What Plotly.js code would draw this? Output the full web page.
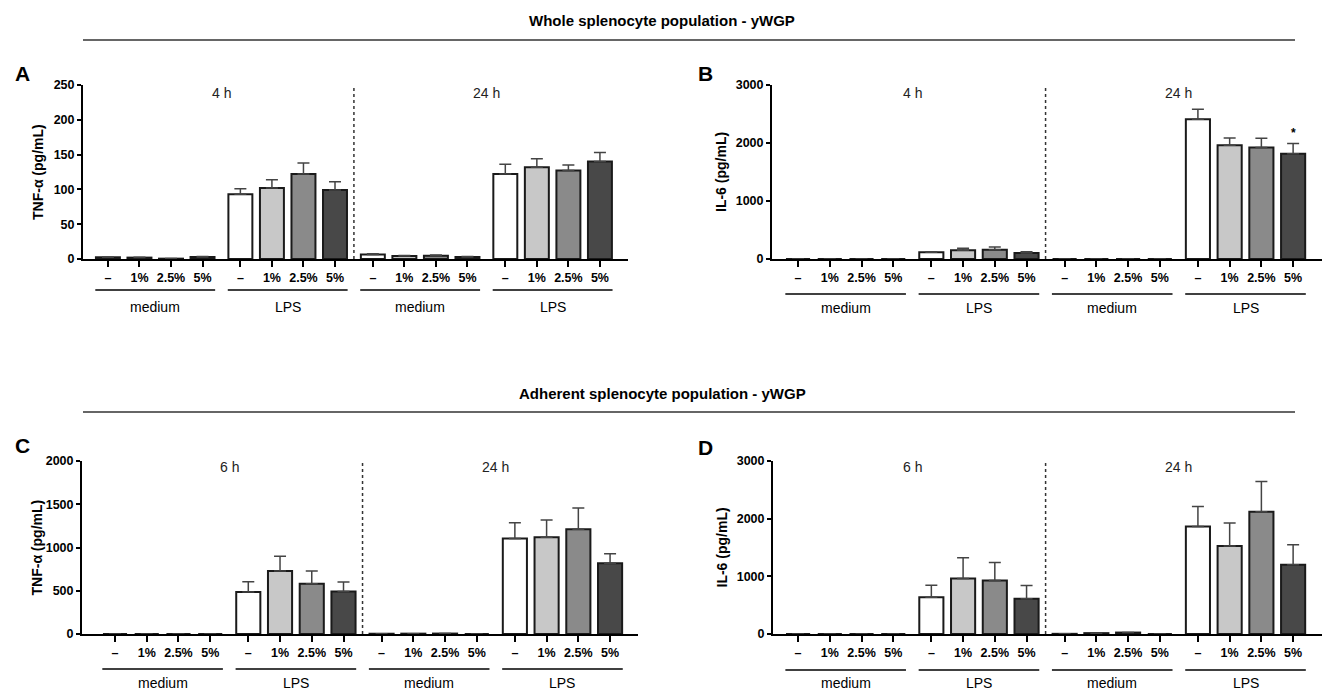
<!DOCTYPE html>
<html>
<head>
<meta charset="utf-8">
<script src="https://cdn.plot.ly/plotly-3.0.1.min.js"></script>
<style>html,body{margin:0;padding:0;background:#fff;}#chart{width:1326px;height:692px;}</style>
</head>
<body>
<div id="chart"></div>
<script>
// ---- data ----
const doseLabels = ['–', '1%', '2.5%', '5%'];
const groupLabels = ['medium', 'LPS', 'medium', 'LPS'];
const barColors = ['#ffffff', '#c8c8c8', '#8a8a8a', '#484848'];

// Panel A: whole splenocytes, TNF-α (4 h | 24 h)
const tnfWhole = [2.5, 2, 0.5, 3, 93, 102, 122, 99, 6.5, 4.3, 4.8, 2.9, 122, 132, 127, 140];
const tnfWholeErr = [0.5, 0.5, 0.3, 0.5, 8, 12, 16, 12, 1, 0.8, 1, 0.6, 14, 12, 8, 13];
// Panel B: whole splenocytes, IL-6 (4 h | 24 h)
const il6Whole = [0, 0, 0, 0, 115, 150, 160, 103, 0, 0, 0, 0, 2410, 1962, 1922, 1813];
const il6WholeErr = [0, 0, 0, 0, 12, 34, 46, 23, 0, 0, 0, 0, 172, 126, 161, 178];
// Panel C: adherent splenocytes, TNF-α (6 h | 24 h)
const tnfAdh = [0, 0, 0, 0, 485, 727, 581, 492, 3, 4, 5, 0, 1104, 1119, 1212, 819];
const tnfAdhErr = [0, 0, 0, 0, 119, 173, 146, 108, 0, 0, 0, 0, 181, 200, 246, 108];
// Panel D: adherent splenocytes, IL-6 (6 h | 24 h)
const il6Adh = [0, 0, 0, 0, 639, 961, 927, 610, 3, 15, 25, 0, 1865, 1526, 2119, 1203];
const il6AdhErr = [0, 0, 0, 0, 207, 363, 311, 231, 0, 0, 0, 0, 346, 397, 524, 346];

// ---- layout helpers ----
const W = 1326, H = 692;
const px = x => x / W;
const py = y => 1 - y / H;
const GAP = 4.2; // group spacing in slot units
const xpos = [];
const tickText = [];
const colors = [];
for (let g = 0; g < 4; g++) for (let i = 0; i < 4; i++) {
  xpos.push(g * GAP + i); tickText.push(doseLabels[i]); colors.push(barColors[i]);
}
const FONT = 'Liberation Sans, Arial, sans-serif';

const panels = [
  {id: '', letter: 'A', vals: tnfWhole, err: tnfWholeErr, ymax: 250, dtick: 50, ytitle: 'TNF-α (pg/mL)', times: ['4 h', '24 h'],
   xd: [83, 628], yd: [85, 259], xr: [-0.79, 16.49], lineY: 290, labY: 307, letterXY: [22, 73], timeY: 93, ytX: 38},
  {id: '2', letter: 'B', vals: il6Whole, err: il6WholeErr, ymax: 3000, dtick: 1000, ytitle: 'IL-6 (pg/mL)', times: ['4 h', '24 h'],
   xd: [772, 1322], yd: [85, 259], xr: [-0.82, 16.51], lineY: 294, labY: 308, letterXY: [705, 73], timeY: 93, ytX: 721},
  {id: '3', letter: 'C', vals: tnfAdh, err: tnfAdhErr, ymax: 2000, dtick: 500, ytitle: 'TNF-α (pg/mL)', times: ['6 h', '24 h'],
   xd: [82, 638], yd: [461, 634], xr: [-1.04, 16.48], lineY: 669, labY: 683, letterXY: [22, 445], timeY: 467, ytX: 36},
  {id: '4', letter: 'D', vals: il6Adh, err: il6AdhErr, ymax: 3000, dtick: 1000, ytitle: 'IL-6 (pg/mL)', times: ['6 h', '24 h'],
   xd: [773, 1322], yd: [461, 634], xr: [-0.79, 16.51], lineY: 670, labY: 683, letterXY: [705, 447], timeY: 467, ytX: 721}
];

const data = [];
const layout = {
  width: W, height: H, autosize: false,
  margin: {l: 0, r: 0, t: 0, b: 0},
  paper_bgcolor: '#fff', plot_bgcolor: 'rgba(0,0,0,0)',
  showlegend: false, bargap: 0,
  font: {family: FONT, color: '#000'},
  shapes: [], annotations: []
};

panels.forEach(p => {
  const xa = 'x' + p.id, ya = 'y' + p.id;
  data.push({
    type: 'bar', x: xpos, y: p.vals, width: 0.76, xaxis: xa, yaxis: ya,
    marker: {color: colors, line: {color: '#1a1a1a', width: 2}},
    error_y: {type: 'data', symmetric: false, array: p.err, arrayminus: p.err.map(() => 0),
              color: '#444', thickness: 1.5, width: 6},
    hoverinfo: 'y'
  });
  layout['xaxis' + p.id] = {
    domain: [px(p.xd[0]), px(p.xd[1])], anchor: ya, range: p.xr,
    tickvals: xpos, ticktext: tickText, ticks: 'outside', ticklen: 6, tickwidth: 2, tickcolor: '#000',
    showline: true, linewidth: 2, linecolor: '#000', showgrid: false, zeroline: false,
    tickfont: {family: FONT, size: 12.5, weight: 'bold', color: '#000'}, fixedrange: true
  };
  layout['yaxis' + p.id] = {
    domain: [py(p.yd[1]), py(p.yd[0])], anchor: xa, range: [0, p.ymax], dtick: p.dtick, tick0: 0,
    ticks: 'outside', ticklen: 4, tickwidth: 2, tickcolor: '#000',
    showline: true, linewidth: 2, linecolor: '#000', showgrid: false, zeroline: false,
    tickfont: {family: FONT, size: 12.5, weight: 'bold', color: '#000'}, fixedrange: true
  };
  // dotted separator between the two time points (midway between group 2 and group 3)
  const sep = ((GAP + 3) + 2 * GAP) / 2;
  layout.shapes.push({type: 'line', xref: xa, yref: ya + ' domain', x0: sep, x1: sep,
    y0: 0, y1: 1, line: {color: '#333', width: 1.5, dash: 'dot'}});
  // group underline + labels
  for (let g = 0; g < 4; g++) {
    const a = g * GAP, b = g * GAP + 3;
    layout.shapes.push({type: 'line', xref: xa, yref: 'paper', x0: a - 0.4, x1: b + 0.4,
      y0: py(p.lineY), y1: py(p.lineY), line: {color: '#000', width: 1.5}});
    layout.annotations.push({xref: xa, yref: 'paper', x: (a + b) / 2, y: py(p.labY), text: groupLabels[g],
      showarrow: false, xanchor: 'center', yanchor: 'middle', font: {family: FONT, size: 14, color: '#000'}});
  }
  // time labels
  [0, 2].forEach((g, k) => {
    const c = (g * GAP + (g + 1) * GAP + 3) / 2;
    layout.annotations.push({xref: xa, yref: 'paper', x: c, y: py(p.timeY), text: p.times[k],
      showarrow: false, xanchor: 'center', yanchor: 'middle', font: {family: FONT, size: 14, color: '#222'}});
  });
  // panel letter
  layout.annotations.push({xref: 'paper', yref: 'paper', x: px(p.letterXY[0]), y: py(p.letterXY[1]), text: '<b>' + p.letter + '</b>',
    showarrow: false, xanchor: 'center', yanchor: 'middle', font: {family: FONT, size: 21, color: '#000'}});
  // y-axis title
  layout.annotations.push({xref: 'paper', yref: 'paper', x: px(p.ytX), y: py((p.yd[0] + p.yd[1]) / 2), text: '<b>' + p.ytitle + '</b>',
    textangle: -90, showarrow: false, xanchor: 'center', yanchor: 'middle', font: {family: FONT, size: 14, color: '#000'}});
});

// significance marker on panel B, 24 h LPS 5%
layout.annotations.push({xref: 'x2', yref: 'y2', x: xpos[15], y: il6Whole[15] + il6WholeErr[15], text: '<b>*</b>',
  showarrow: false, yanchor: 'bottom', yshift: 2, font: {family: FONT, size: 12, color: '#000'}});

// section headers
const headers = [['Whole splenocyte population - yWGP', 20, 40], ['Adherent splenocyte population - yWGP', 393, 412]];
headers.forEach(h => {
  layout.annotations.push({xref: 'paper', yref: 'paper', x: px(662), y: py(h[1]), text: '<b>' + h[0] + '</b>',
    showarrow: false, xanchor: 'center', yanchor: 'middle', font: {family: FONT, size: 15, color: '#000'}});
  layout.shapes.push({type: 'line', xref: 'paper', yref: 'paper', x0: px(83), x1: px(1295), y0: py(h[2]), y1: py(h[2]),
    line: {color: '#333', width: 1.5}});
});

Plotly.newPlot('chart', data, layout, {displayModeBar: false, staticPlot: true});
</script>
</body>
</html>
